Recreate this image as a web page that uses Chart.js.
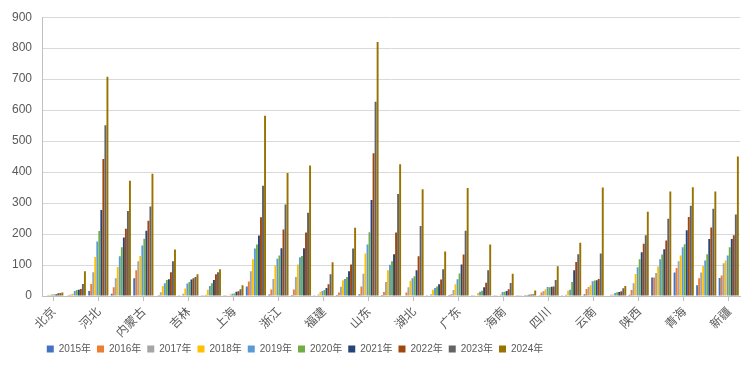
<!DOCTYPE html>
<html>
<head>
<meta charset="utf-8">
<script src="https://cdn.jsdelivr.net/npm/chart.js@4"></script>
<style>
  body { margin: 0; background: #fff; }
</style>
</head>
<body>
<canvas id="chart" width="753" height="389"></canvas>
<script>
  var provinces = ['北京','天津','河北','山西','内蒙古','辽宁','吉林','黑龙江','上海','江苏','浙江','安徽','福建','江西','山东','河南','湖北','湖南','广东','广西','海南','重庆','四川','贵州','云南','西藏','陕西','甘肃','青海','宁夏','新疆'];

  var y2015 = [2,2,16,7,57,2,1,1,1,31,5,3,1,3,6,3,2,1,3,1,1,1,1,1,6,2,4,60,76,35,58];
  var y2016 = [2,3,39,28,83,3,2,1,1,47,21,21,2,11,31,13,11,2,6,1,1,1,11,2,23,2,19,60,90,57,66];
  var y2017 = [3,5,77,57,112,12,7,4,2,80,55,61,5,30,72,45,28,6,19,2,2,1,16,4,29,4,41,74,112,76,106];
  var y2018 = [4,7,126,94,129,32,24,20,5,119,99,102,13,51,137,83,49,20,38,10,5,2,22,17,35,5,71,95,131,97,115];
  var y2019 = [5,16,176,128,163,41,40,32,7,153,120,125,16,55,166,101,57,26,54,14,13,3,29,20,48,10,93,119,157,115,131];
  var y2020 = [5,19,210,157,185,52,45,41,8,166,131,129,19,61,206,112,64,31,73,17,14,3,28,45,50,12,119,134,167,135,157];
  var y2021 = [6,20,278,189,211,54,53,52,14,195,154,154,26,80,310,135,83,38,102,28,16,4,30,83,51,13,141,151,212,184,184];
  var y2022 = [9,23,442,217,243,77,57,70,15,254,215,205,38,102,461,205,128,53,134,43,22,5,31,110,55,15,169,179,255,221,196];
  var y2023 = [10,39,551,274,289,112,61,77,22,356,295,269,70,153,627,329,226,86,211,83,42,6,52,135,137,25,196,249,291,282,263];
  var y2024 = [11,80,708,372,395,150,70,86,35,582,397,421,109,220,820,425,345,144,349,166,72,18,96,172,350,32,272,337,351,337,450];

  var years = ['2015年','2016年','2017年','2018年','2019年','2020年','2021年','2022年','2023年','2024年'];
  var series = [y2015, y2016, y2017, y2018, y2019, y2020, y2021, y2022, y2023, y2024];
  var colors = ['#4472C4','#ED7D31','#A5A5A5','#FFC000','#5B9BD5','#70AD47','#264478','#9E480E','#636363','#997300'];

  var data = {
      labels: provinces,
      datasets: series.map(function(values, i) {
          return {
              label: years[i],
              data: values,
              backgroundColor: colors[i],
              categoryPercentage: 0.9,
              barPercentage: 0.95
          };
      })
  };

  // excel-style legend sits left of centre
  var shiftLegend = {
      id: 'shiftLegend',
      afterUpdate: function(chart) {
          chart.legend.left -= 76;
          chart.legend.right -= 76;
      }
  };

  var config = {
      type: 'bar',
      data: data,
      plugins: [shiftLegend],
      options: {
          responsive: false,
          animation: false,
          layout: { padding: { top: 3, left: 2, right: 13, bottom: 25 } },
          plugins: {
              tooltip: { enabled: false },
              legend: {
                  position: 'bottom',
                  labels: {
                      boxWidth: 7,
                      boxHeight: 7,
                      padding: 6,
                      color: '#595959',
                      font: { family: 'Liberation Sans, Noto Sans CJK SC', size: 10 }
                  }
              }
          },
          scales: {
              x: {
                  afterFit: function(scale) { scale.height = 42; },
                  grid: {
                      offset: false,
                      drawOnChartArea: false,
                      tickLength: 5,
                      color: function(ctx) { return ctx.index % 2 === 0 ? '#BFBFBF' : 'rgba(0,0,0,0)'; }
                  },
                  border: { color: '#BFBFBF' },
                  ticks: {
                      autoSkip: false,
                      maxRotation: 45,
                      minRotation: 45,
                      color: '#595959',
                      font: { family: 'Noto Sans CJK SC', size: 12 },
                      callback: function(value, index) {
                          return index % 2 === 0 ? provinces[index] : '';
                      }
                  }
              },
              y: {
                  min: 0,
                  max: 900,
                  ticks: {
                      stepSize: 100,
                      padding: 10,
                      color: '#595959',
                      font: { family: 'Liberation Sans', size: 12 }
                  },
                  grid: { color: '#D9D9D9', drawTicks: false },
                  border: { color: '#BFBFBF' }
              }
          }
      }
  };

  var chart = new Chart(document.getElementById('chart'), config);
</script>
</body>
</html>
